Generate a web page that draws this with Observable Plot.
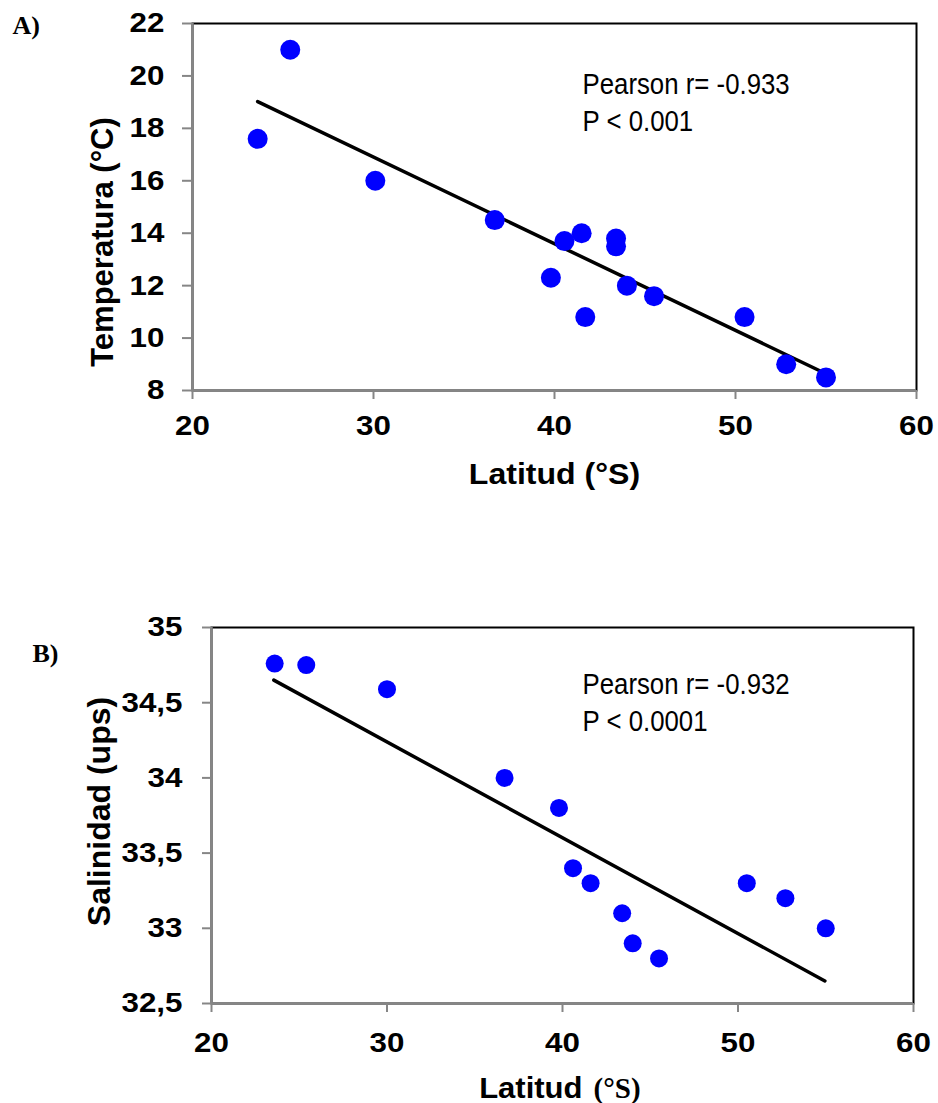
<!DOCTYPE html>
<html><head><meta charset="utf-8">
<script src="https://cdn.jsdelivr.net/npm/d3@7"></script>
<script src="https://cdn.jsdelivr.net/npm/@observablehq/plot@0.6"></script>
<style>body{margin:0;background:#fff;} #chart svg{display:block;}</style>
</head><body><div id="chart"></div>
<script>
// Panel A: temperatura vs latitud
const latA  = [23.6, 25.4, 30.1, 36.7, 39.8, 40.55, 41.5, 41.7, 43.4, 43.4, 44.0, 45.5, 50.5, 52.8, 55.0];
const tempA = [17.6, 21.0, 16.0, 14.5, 12.3, 13.7, 14.0, 10.8, 13.8, 13.5, 12.0, 11.6, 10.8, 9.0, 8.5];
const fitLatA  = [23.6, 55.0];
const fitTempA = [19.02, 8.64];
const statsA = ["Pearson r= -0.933", "P < 0.001"];

// Panel B: salinidad vs latitud
const latB = [23.6, 25.4, 30.0, 36.7, 39.8, 40.6, 41.6, 43.4, 44.0, 45.5, 50.5, 52.7, 55.0];
const salB = [34.76, 34.75, 34.59, 34.0, 33.8, 33.4, 33.3, 33.1, 32.9, 32.8, 33.3, 33.2, 33.0];
const fitLatB = [23.55, 54.95];
const fitSalB = [34.65, 32.65];
const statsB = ["Pearson r= -0.932", "P < 0.0001"];

const xTicks = [20, 30, 40, 50, 60];
const yTicksA = [8, 10, 12, 14, 16, 18, 20, 22];
const yTicksB = [32.5, 33, 33.5, 34, 34.5, 35];
const yTickLabelsB = ["32,5", "33", "33,5", "34", "34,5", "35"];

const sans = "'Liberation Sans', Arial, sans-serif";
const serif = "'Liberation Serif', 'Times New Roman', serif";
const gray = "#868686";
const blue = "#0000ff";

const rowsA = latA.map((x, i) => ({x, y: tempA[i]}));
const fitA = fitLatA.map((x, i) => ({x, y: fitTempA[i]}));
const rowsB = latB.map((x, i) => ({x, y: salB[i]}));
const fitB = fitLatB.map((x, i) => ({x, y: fitSalB[i]}));

const axisStyle = {stroke: gray, strokeWidth: 2, fill: "black", fontSize: 28, fontWeight: "bold", fontFamily: sans, label: null};
const titleStyle = {fontWeight: "bold", fontFamily: sans, fill: "black"};
const statStyle = {frameAnchor: "top-left", textAnchor: "start", lineAnchor: "top", lineHeight: 1.233, fontSize: 30, fontFamily: sans, fill: "black"};

const plotA = Plot.plot({
  width: 938, height: 527,
  marginLeft: 192, marginRight: 22, marginTop: 23, marginBottom: 137,
  x: {domain: [20, 60]},
  y: {domain: [8, 22]},
  style: {fontFamily: sans, background: "white", overflow: "visible"},
  marks: [
    Plot.frame({stroke: "black", strokeWidth: 2}),
    Plot.ruleX([20], {stroke: gray, strokeWidth: 2.5}),
    Plot.ruleY([8], {stroke: gray, strokeWidth: 2.5}),
    Plot.axisX({...axisStyle, ticks: xTicks, tickSize: 9, tickPadding: 16}),
    Plot.axisY({...axisStyle, ticks: yTicksA, tickSize: 10, tickPadding: 18}),
    Plot.line(fitA, {x: "x", y: "y", stroke: "black", strokeWidth: 3.5}),
    Plot.dot(rowsA, {x: "x", y: "y", r: 10, fill: blue}),
    Plot.text([statsA.join("\n")], {...statStyle, dx: 390, dy: 44}),
    Plot.text(["Temperatura (°C)"], {...titleStyle, frameAnchor: "left", textAnchor: "middle", lineAnchor: "middle", dx: -89, dy: 35, rotate: -90, fontSize: 31}),
    Plot.text(["Latitud (°S)"], {...titleStyle, frameAnchor: "bottom", lineAnchor: "bottom", dy: 93, fontSize: 30}),
    Plot.text(["A)"], {frameAnchor: "top-left", dx: -180, dy: -8, textAnchor: "start", lineAnchor: "top", fontSize: 26, fontWeight: "bold", fontFamily: serif, fill: "black"})
  ]
});

const plotB = Plot.plot({
  width: 938, height: 576,
  marginLeft: 211, marginRight: 25, marginTop: 100, marginBottom: 100,
  x: {domain: [20, 60]},
  y: {domain: [32.5, 35]},
  style: {fontFamily: sans, background: "white", overflow: "visible"},
  marks: [
    Plot.frame({stroke: "black", strokeWidth: 2}),
    Plot.ruleX([20], {stroke: gray, strokeWidth: 2.5}),
    Plot.ruleY([32.5], {stroke: gray, strokeWidth: 2.5}),
    Plot.axisX({...axisStyle, ticks: xTicks, tickSize: 9, tickPadding: 20}),
    Plot.axisY({...axisStyle, ticks: yTicksB, tickFormat: d => yTickLabelsB[yTicksB.indexOf(d)], tickSize: 9, tickPadding: 20}),
    Plot.line(fitB, {x: "x", y: "y", stroke: "black", strokeWidth: 3.5}),
    Plot.dot(rowsB, {x: "x", y: "y", r: 9, fill: blue}),
    Plot.text([statsB.join("\n")], {...statStyle, dx: 371, dy: 40}),
    Plot.text(["Salinidad (ups)"], {...titleStyle, frameAnchor: "left", textAnchor: "middle", lineAnchor: "middle", dx: -112, dy: -4, rotate: -90, fontSize: 32}),
    Plot.text(["Latitud"], {...titleStyle, frameAnchor: "bottom", lineAnchor: "bottom", dx: 20, dy: 94, textAnchor: "end", fontSize: 29}),
    Plot.text(["(°S)"], {frameAnchor: "bottom", lineAnchor: "bottom", dx: 31, dy: 94, textAnchor: "start", fontSize: 29, fontWeight: "bold", fontFamily: serif, fill: "black"}),
    Plot.text(["B)"], {frameAnchor: "top-left", dx: -179, dy: 16, textAnchor: "start", lineAnchor: "top", fontSize: 26, fontWeight: "bold", fontFamily: serif, fill: "black"})
  ]
});

// Horizontal stretch / condense of text to mimic the reference's typography
function stretchText(svg) {
  d3.select(svg).selectAll("text").each(function () {
    const el = d3.select(this);
    const t = el.attr("transform") || "";
    if (t.includes("rotate")) return;
    const content = this.textContent;
    let sx = 1;
    if (content.startsWith("Pearson")) sx = 0.86;
    else if (/^[\d,.]+$/.test(content)) sx = 1.12;
    else if (content.startsWith("Latitud")) sx = 1.07;
    if (sx === 1) return;
    const x = +el.attr("x") || 0, y = +el.attr("y") || 0;
    el.attr("transform", `${t} translate(${x},${y}) scale(${sx},1) translate(${-x},${-y})`);
  });
}
stretchText(plotA);
stretchText(plotB);

document.getElementById("chart").append(plotA, plotB);
</script>
</body></html>
